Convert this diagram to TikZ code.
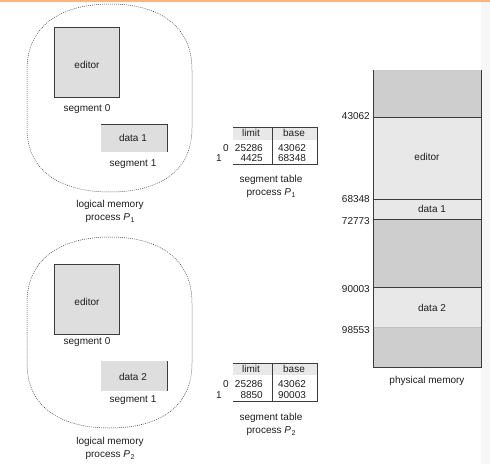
\documentclass[tikz,border=0pt]{standalone}
\usepackage{fontspec}
\setmainfont{Liberation Sans}
\definecolor{txt}{RGB}{30,30,30}
\definecolor{segfill}{RGB}{222,222,222}
\definecolor{lightfill}{RGB}{232,232,232}
\definecolor{darkfill}{RGB}{206,206,206}
\definecolor{topline}{RGB}{250,182,125}
\definecolor{edgeline}{RGB}{60,60,60}
\newcommand{\procP}[1]{\textit{P}\kern0.5pt\raisebox{-0.45ex}{\fontsize{7}{8}\selectfont #1}}
\tikzset{
  lbl/.style={font=\fontsize{10}{12}\selectfont, text=txt, inner sep=0pt},
  blob/.style={draw=edgeline, line width=0.5pt, dash pattern=on 0.9pt off 1.1pt},
  segbox/.style={fill=segfill, draw=edgeline, line width=0.6pt},
  rule/.style={draw=edgeline, line width=0.6pt},
}
\begin{document}
\begin{tikzpicture}[x=1pt,y=-1pt]
\useasboundingbox (0,0) rectangle (490,464);
\fill[white] (0,0) rectangle (490,464);
\fill[black!3] (481,2) rectangle (490,464);
\fill[topline] (0,0) rectangle (490,1.6);

% ---------- process P1 ----------
\draw[blob] (27,100) -- (27,70) .. controls (27,22) and (66,4) .. (110,4)
  .. controls (154,4) and (192,22) .. (192,70) -- (192,128)
  .. controls (192,175) and (154,192) .. (110,192)
  .. controls (66,192) and (27,175) .. (27,128) -- cycle;
\draw[segbox] (54,27) rectangle (119,97);
\node[lbl] (ed1) at (87,65) {editor};
\node[lbl] (s01) at (87,109) {segment 0};
\fill[segfill] (101,124) rectangle (167,152);
\draw[rule] (101,124) -- (167,124) -- (167,152);
\node[lbl] (d1) at (133,138) {data 1};
\node[lbl] (s11) at (133,164) {segment 1};
\node[lbl] (lm1) at (110,205) {logical memory};
\node[lbl] (pr1) at (110,218) {process \procP{1}};

% ---------- process P2 ----------
\draw[blob] (27,333) -- (27,303) .. controls (27,255) and (66,237) .. (110,237)
  .. controls (154,237) and (192,255) .. (192,303) -- (192,363)
  .. controls (192,411) and (154,428) .. (110,428)
  .. controls (66,428) and (27,411) .. (27,363) -- cycle;
\draw[segbox] (54,264) rectangle (119,334);
\node[lbl] (ed2) at (87,302) {editor};
\node[lbl] (s02) at (87,342) {segment 0};
\fill[segfill] (101,361) rectangle (167,391);
\draw[rule] (167,361) -- (167,391);
\node[lbl] (d2) at (133,377) {data 2};
\node[lbl] (s12) at (133,400) {segment 1};
\node[lbl] (lm2) at (110,442) {logical memory};
\node[lbl] (pr2) at (110,455) {process \procP{2}};

% ---------- segment table P1 ----------
\fill[lightfill] (233,127) rectangle (317,140);
\draw[rule] (233,127) -- (317,127) -- (317,164) -- (233,164);
\draw[rule] (272,127) -- (272,164);
\node[lbl] (h1a) at (251,133) {limit};
\node[lbl] (h1b) at (294,133) {base};
\node[lbl] (r10) at (226,148) {0};
\node[lbl,anchor=east] (l10) at (263,148) {25286};
\node[lbl] (b10) at (292,148) {43062};
\node[lbl] (r11) at (219,158) {1};
\node[lbl,anchor=east] (l11) at (263,158) {4425};
\node[lbl] (b11) at (292,158) {68348};
\node[lbl] (st1) at (271,180) {segment table};
\node[lbl] (sp1) at (271,193) {process \procP{1}};

% ---------- segment table P2 ----------
\fill[lightfill] (233,363) rectangle (317,375);
\draw[rule] (233,363) -- (317,363) -- (317,401) -- (233,401);
\draw[rule] (272,363) -- (272,401);
\node[lbl] (h2a) at (251,369) {limit};
\node[lbl] (h2b) at (294,369) {base};
\node[lbl] (r20) at (226,384) {0};
\node[lbl,anchor=east] (l20) at (263,384) {25286};
\node[lbl] (b20) at (292,384) {43062};
\node[lbl] (r21) at (219,395) {1};
\node[lbl,anchor=east] (l21) at (263,395) {8850};
\node[lbl] (b21) at (292,395) {90003};
\node[lbl] (st2) at (271,418) {segment table};
\node[lbl] (sp2) at (271,431) {process \procP{2}};

% ---------- physical memory ----------
\fill[darkfill] (373,70) rectangle (481,117);
\fill[lightfill] (373,117) rectangle (481,199);
\fill[lightfill] (373,199) rectangle (481,219);
\fill[darkfill] (373,219) rectangle (481,287);
\fill[lightfill] (373,287) rectangle (481,327);
\fill[darkfill] (373,327) rectangle (481,367);
\draw[black!25, line width=0.5pt] (373,327) -- (481,327);
\draw[rule] (373,117) -- (481,117);
\draw[rule] (373,199) -- (481,199);
\draw[rule] (373,219) -- (481,219);
\draw[rule] (373,287) -- (481,287);
\draw[rule] (373,70) -- (373,367) -- (481,367) -- (481,70);
\node[lbl] (pe) at (427,157) {editor};
\node[lbl] (pd1) at (432,209) {data 1};
\node[lbl] (pd2) at (432,308) {data 2};
\node[lbl] (pm) at (427,381) {physical memory};
\node[lbl,anchor=east] (a1) at (370,116) {43062};
\node[lbl,anchor=east] (a2) at (370,199) {68348};
\node[lbl,anchor=east] (a3) at (370,221) {72773};
\node[lbl,anchor=east] (a4) at (370,289) {90003};
\node[lbl,anchor=east] (a5) at (370,330) {98553};
\end{tikzpicture}
\end{document}
